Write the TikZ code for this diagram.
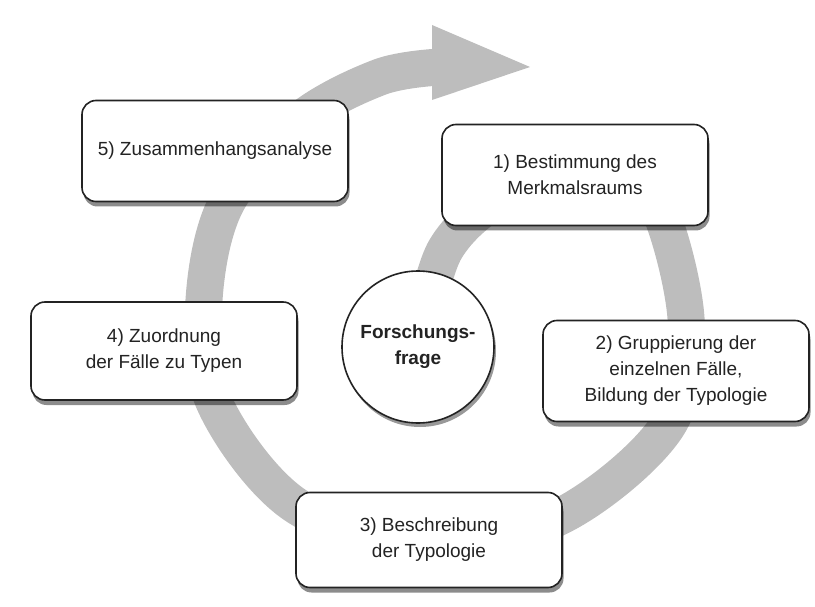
\documentclass[tikz,border=0pt]{standalone}
\usepackage{fontspec}
\setmainfont{Liberation Sans}
\usetikzlibrary{shadows,backgrounds}
\definecolor{ringgray}{RGB}{189,189,189}
\definecolor{inkgray}{RGB}{35,35,35}
\tikzset{
  px/.style={x=1pt,y=-1pt},
  txt/.style={text=inkgray,font=\fontsize{19}{26}\selectfont},
  stepbox/.style={txt,draw=inkgray,line width=1.6pt,fill=white,rounded corners=14pt,
    align=center,inner sep=0pt,minimum width=266pt,minimum height=101pt,
    drop shadow={shadow xshift=1.5pt,shadow yshift=-5pt,opacity=.45,fill=black}},
  kreis/.style={txt,draw=inkgray,line width=1.6pt,fill=white,circle,align=center,
    inner sep=0pt,minimum size=152pt,font=\fontsize{19}{26}\selectfont\bfseries,
    drop shadow={shadow xshift=2pt,shadow yshift=-4pt,opacity=.4,fill=black}},
}

\begin{document}
\begin{tikzpicture}[px]
  \useasboundingbox (0,0) rectangle (815,607);
  % Arbeitsschritte
  \node[stepbox] (s5) at (215,151) {5) Zusammenhangsanalyse};
  \node[stepbox] (s1) at (575,175) {1) Bestimmung des\\Merkmalsraums};
  \node[stepbox,minimum height=98pt] (s4) at (164,351) {4) Zuordnung\\der F\"alle zu Typen};
  \node[stepbox] (s2) at (676,371) {2) Gruppierung der\\einzelnen F\"alle,\\Bildung der Typologie};
  \node[stepbox,minimum height=95pt] (s3) at (429,540) {3) Beschreibung\\der Typologie};
  \node[kreis] (frage) at (418,347) {Forschungs-\\frage};
  % Kreislauf hinter den Knoten
  \begin{scope}[on background layer]
    \draw[ringgray,line width=37pt] plot[smooth,tension=0.55] coordinates {
      (frage.center) (445,250) (505,195) (590,172) (652,195) (686,318)
      (668,425) (563,515) (430,548) (295,505) (214,402) (204,300) (227,202)
      (300,120) (380,77) (440,67)};
    \fill[ringgray] (432,25) -- (530,67) -- (432,100) -- cycle;
  \end{scope}
\end{tikzpicture}
\end{document}
